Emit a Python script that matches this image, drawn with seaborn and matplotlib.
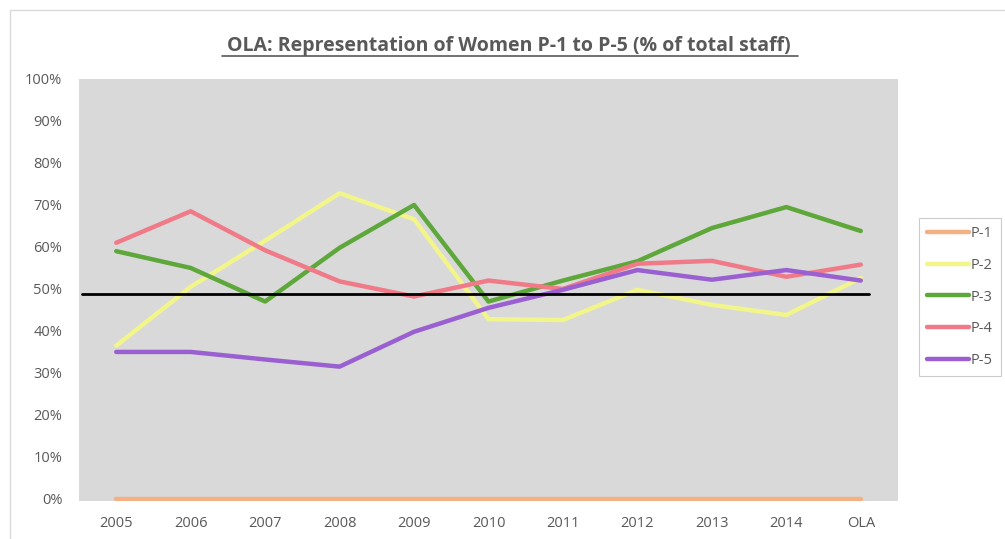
import numpy as np
import pandas as pd
import matplotlib.pyplot as plt
import matplotlib.ticker as mtick
from matplotlib.patches import Rectangle
import seaborn as sns

# data (% of total staff)
years = ["2005", "2006", "2007", "2008", "2009", "2010", "2011", "2012", "2013", "2014", "OLA"]
p1 = [0, 0, 0, 0, 0, 0, 0, 0, 0, 0, 0]
p2 = [36.5, 50.5, 61.5, 72.8, 66.6, 42.8, 42.6, 49.8, 46.2, 43.8, 52.6]
p3 = [59.0, 55.0, 47.0, 59.8, 70.0, 47.0, 52.0, 56.6, 64.5, 69.5, 63.8]
p4 = [61.0, 68.5, 59.2, 51.8, 48.2, 52.0, 50.0, 56.0, 56.7, 52.9, 55.8]
p5 = [35.0, 35.0, 33.2, 31.5, 39.8, 45.5, 49.8, 54.5, 52.2, 54.5, 52.0]
series = ["P-1", "P-2", "P-3", "P-4", "P-5"]
ref_level = 48.8

colors = ["#F4B183", "#F2F589", "#5EA73A", "#F07A88", "#9A5FD0"]

df = pd.DataFrame({"year": years, "P-1": p1, "P-2": p2, "P-3": p3, "P-4": p4, "P-5": p5})
long = df.melt(id_vars="year", var_name="grade", value_name="pct")

sns.set_theme(style="white")
plt.rcParams["font.family"] = ["Open Sans", "DejaVu Sans"]

fig = plt.figure(figsize=(10.05, 5.39), dpi=100)
ax = fig.add_axes([79 / 1005, 1 - 501 / 539, 819 / 1005, 422 / 539])
ax.set_facecolor("#D9D9D9")

sns.lineplot(data=long, x="year", y="pct", hue="grade", hue_order=series,
             palette=colors, linewidth=3.2, sort=False, ax=ax)
ax.axhline(ref_level, xmin=0.004, xmax=0.964, color="black", linewidth=2, zorder=5)

ax.set_xlim(-0.5, 10.5)
ax.set_ylim(-0.5, 100)
ax.set_yticks(np.arange(0, 101, 10))
ax.yaxis.set_major_formatter(mtick.PercentFormatter(decimals=0))
ax.tick_params(axis="both", length=0, labelsize=10.5, labelcolor="#595959")
ax.tick_params(axis="y", pad=12)
ax.tick_params(axis="x", pad=11)
ax.set_xlabel("")
ax.set_ylabel("")
for s in ax.spines.values():
    s.set_visible(False)

fig.text(0.506, 0.915, "OLA: Representation of Women P-1 to P-5 (% of total staff)",
         ha="center", va="center", fontsize=14, fontweight="bold", color="#595959")
# underline for the title
fig.add_artist(plt.Line2D([222 / 1005, 798 / 1005], [1 - 56 / 539, 1 - 56 / 539],
                          color="#595959", linewidth=1.2))

leg = ax.legend(loc="upper left", bbox_to_anchor=(919 / 1005, 1 - 218 / 539),
                bbox_transform=fig.transFigure, frameon=True, fancybox=False,
                fontsize=10.5, handlelength=2.9, handletextpad=0.1,
                labelspacing=1.15, borderpad=0.55, borderaxespad=0,
                labelcolor="#595959")
leg.get_frame().set_edgecolor("#BFBFBF")
leg.get_frame().set_linewidth(0.8)
for line in leg.get_lines():
    line.set_linewidth(3.2)

# outer chart border
fig.add_artist(Rectangle((10 / 1005, -0.01), 1.0, 1 - 10 / 539 + 0.01,
                         transform=fig.transFigure, fill=False,
                         edgecolor="#D9D9D9", linewidth=1))

fig.savefig("out.png", dpi=100)
